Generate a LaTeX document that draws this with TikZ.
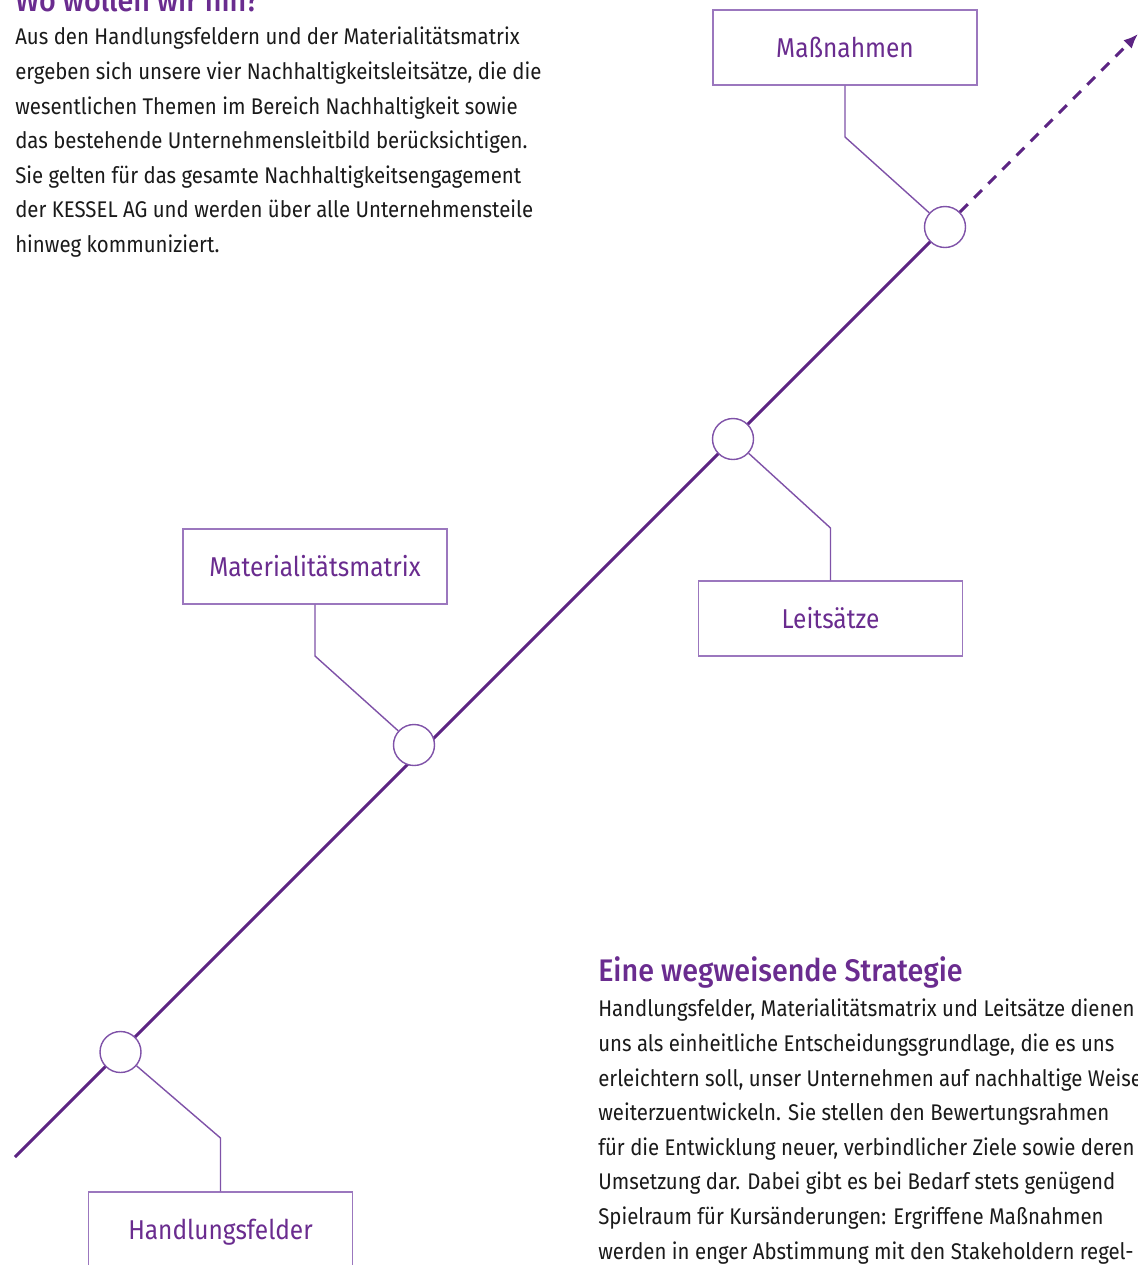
\documentclass[tikz,border=0pt]{standalone}
\usepackage{fontspec}
\setmainfont{Fira Sans}[FakeStretch=0.9]
\newfontfamily\headfont{Fira Sans}[UprightFont={* Medium}, FakeStretch=0.92]
\usetikzlibrary{arrows.meta}
\definecolor{lineP}{HTML}{5C2483}
\definecolor{boxP}{HTML}{9B77BE}
\definecolor{leadP}{HTML}{7F52A8}
\definecolor{textP}{HTML}{6A2C8F}
\definecolor{bodyK}{HTML}{1A1A1A}
\tikzset{
  mainline/.style={draw=lineP, line width=2.2pt},
  dashline/.style={draw=lineP, line width=2.2pt, dash pattern=on 8.25pt off 6.75pt, -{Latex[length=11pt,width=9pt]}},
  leader/.style={draw=leadP, line width=1.05pt},
  circ/.style={circle, draw=leadP, fill=white, line width=1.05pt, minimum size=30.75pt, inner sep=0pt},
  labelbox/.style={rectangle, draw=boxP, fill=white, line width=1.05pt, minimum width=198pt, minimum height=56.25pt, inner sep=0pt,
     text=textP, font=\fontsize{20.4pt}{24pt}\selectfont, text height=14.25pt, text depth=0pt},
  bodytext/.style={text=bodyK, align=left, inner sep=0pt, font=\fontsize{17pt}{25.95pt}\selectfont},
  headtext/.style={text=textP, inner sep=0pt, font=\headfont\fontsize{23.4pt}{28pt}\selectfont},
}
\begin{document}
\begin{tikzpicture}[x=0.75pt,y=-0.75pt]
\useasboundingbox (0,0) rectangle (1138,1265);
\fill[white] (0,0) rectangle (1138,1265);

% headings and paragraphs (base anchor = baseline of last line)
\node[headtext, anchor=base west] (h1) at (15,11) {Wo wollen wir hin?};
\node[bodytext, anchor=base west] (t1) at (15,252.5) {Aus den Handlungsfeldern und der Materialitätsmatrix\\
ergeben sich unsere vier Nachhaltigkeitsleitsätze, die die\\
wesentlichen Themen im Bereich Nachhaltigkeit sowie\\
das bestehende Unternehmensleitbild berücksichtigen.\\
Sie gelten für das gesamte Nachhaltigkeitsengagement\\
der KESSEL AG und werden über alle Unternehmensteile\\
hinweg kommuniziert.};

\node[headtext, anchor=base west] (h2) at (598,981) {Eine wegweisende Strategie};
\node[bodytext, anchor=base west] (t2) at (598,1259) {Handlungsfelder, Materialitätsmatrix und Leitsätze dienen\\
uns als einheitliche Entscheidungsgrundlage, die es uns\\
erleichtern soll, unser Unternehmen auf nachhaltige Weise\\
weiterzuentwickeln. Sie stellen den Bewertungsrahmen\\
für die Entwicklung neuer, verbindlicher Ziele sowie deren\\
Umsetzung dar. Dabei gibt es bei Bedarf stets genügend\\
Spielraum für Kursänderungen: Ergriffene Maßnahmen\\
werden in enger Abstimmung mit den Stakeholdern regel-};

% main line
\coordinate (start) at (15,1157);
\coordinate (p4) at (945,227);
\coordinate (tip) at (1138,34);
\draw[mainline] (start) -- (p4);

% circles
\node[circ] (n1) at (120.5,1052) {};
\node[circ] (n2) at (414,745) {};
\node[circ] (n3) at (733,439) {};
\node[circ] (n4) at (945,227) {};

\draw[dashline] (n4) -- (tip);

% boxes
\node[labelbox] (b1) at (220.5,1229.5) {Handlungsfelder};
\node[labelbox] (b2) at (315,566.5) {Materialitätsmatrix};
\node[labelbox] (b3) at (830.5,618.5) {Leitsätze};
\node[labelbox] (b4) at (845,47.5) {Maßnahmen};

% leaders
\coordinate (k1) at (220.5,1138);
\coordinate (k2) at (315,656);
\coordinate (k3) at (830.5,528);
\coordinate (k4) at (845,137);
\draw[leader] (b1.north) -- (k1) -- (n1);
\draw[leader] (b2.south) -- (k2) -- (n2);
\draw[leader] (b3.north) -- (k3) -- (n3);
\draw[leader] (b4.south) -- (k4) -- (n4);
\end{tikzpicture}
\end{document}
